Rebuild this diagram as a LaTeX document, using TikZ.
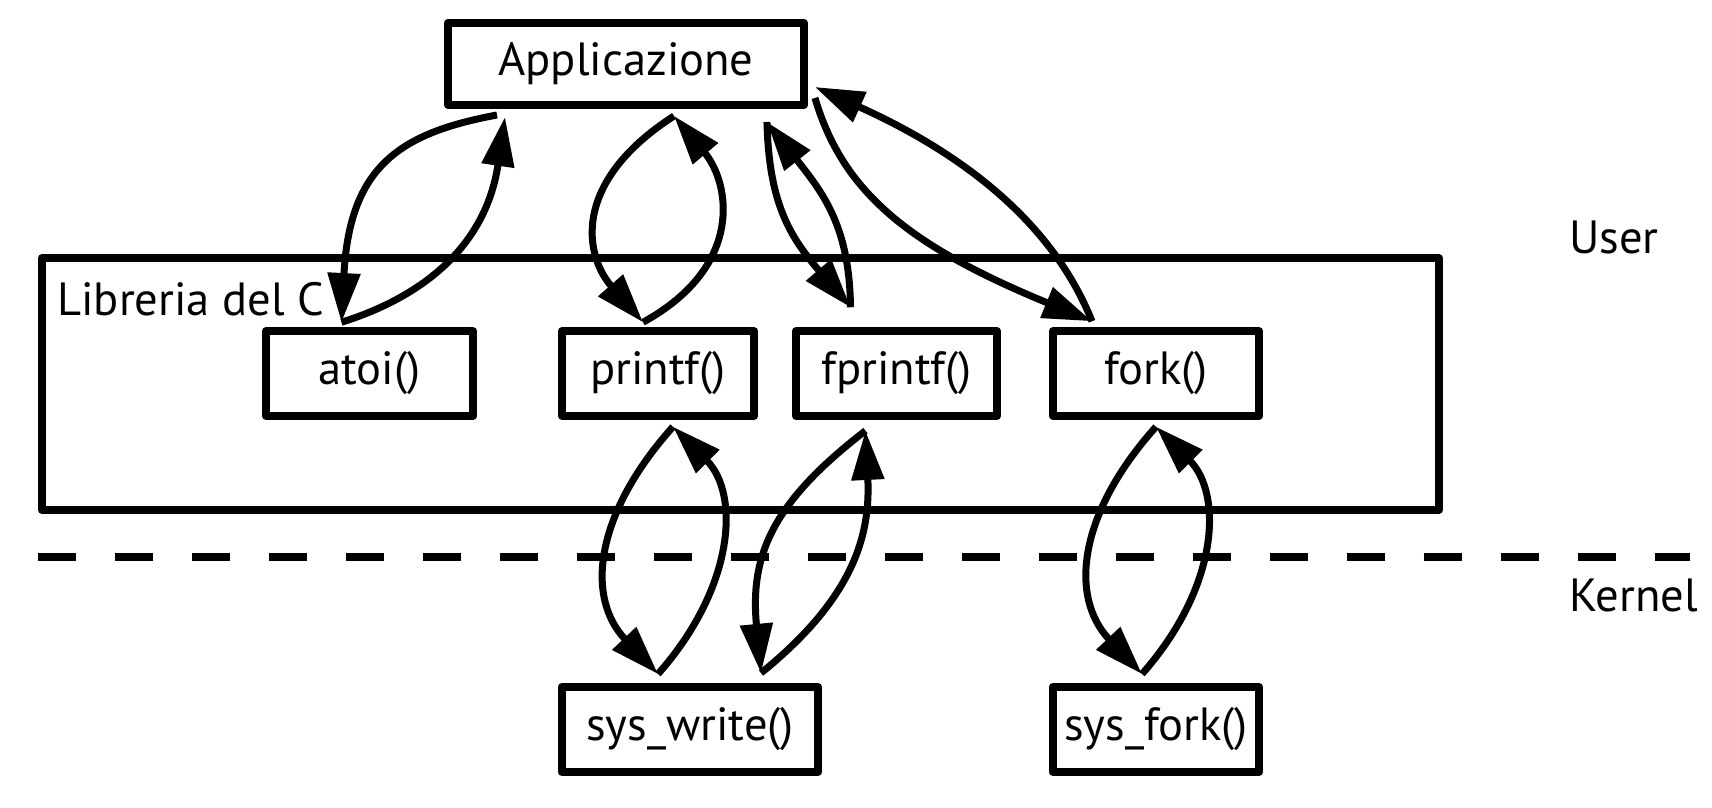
\documentclass[tikz,border=0pt]{standalone}
\usepackage{fontspec}
\setmainfont{PT Sans}
\usetikzlibrary{arrows.meta,calc}

\begin{document}
\begin{tikzpicture}[x=0.02cm,y=-0.02cm,
  fn/.style={draw,line width=0.15cm,line join=round,inner sep=0pt,minimum height=1.7cm,font=\fontsize{26.5}{31}\selectfont},
  link/.style={-{Triangle[length=28pt,width=18pt]},line width=0.14cm},
  side/.style={inner sep=0pt,font=\fontsize{26.5}{31}\selectfont}]
\useasboundingbox (0,0) rectangle (1712,808);
% library frame
\node[draw,line width=0.15cm,line join=round,minimum width=27.95cm,minimum height=5.05cm] (lib) at (740.5,384) {};
\node[side,anchor=base west] (libname) at (57,315) {Libreria del C};
% user / kernel border
\draw[line width=0.17cm,dash pattern=on 0.76cm off 0.78cm] (38,557) -- (1690,557);
\node[side,anchor=base west] (user) at (1569,253) {User};
\node[side,anchor=base west] (kernel) at (1569,611) {Kernel};
% boxes
\node[fn,minimum width=7.13cm,minimum height=1.65cm] (app) at (626,64) {Applicazione};
\node[fn,minimum width=4.15cm] (atoi) at (369.5,373.5) {atoi()};
\node[fn,minimum width=3.85cm] (printf) at (658,373.5) {printf()};
\node[fn,minimum width=4.03cm] (fprintf) at (896.5,373.5) {fprintf()};
\node[fn,minimum width=4.13cm] (fork) at (1156,373.5) {fork()};
\node[fn,minimum width=5.13cm,minimum height=1.71cm] (syswrite) at (690,729.5) {sys\_write()};
\node[fn,minimum width=4.13cm,minimum height=1.71cm] (sysfork) at (1156,729.5) {sys\_fork()};
% calls into the library
\draw[link] ($(app.south)+(-129,6)$) .. controls +(-97,18) and +(8,-156) .. ($(atoi.north)+(-28,-5)$);
\draw[link] ($(atoi.north)+(-28,-5)$) .. controls +(98,-31) and +(-17,116) .. ($(app.south)+(-121,8)$);
\draw[link] ($(app.south)+(48,7)$) .. controls +(-104,67) and +(-58,-66) .. ($(printf.north)+(-15,-5)$);
\draw[link] ($(printf.north)+(-15,-5)$) .. controls +(102,-56) and +(56,67) .. ($(app.south)+(48,7)$);
\draw[link] ($(app.south east)+(-41,13)$) .. controls +(2,81) and +(-61,-71) .. ($(fprintf.north)+(-46,-20)$);
\draw[link] ($(fprintf.north)+(-46,-20)$) .. controls +(-1,-81) and +(56,71) .. ($(app.south east)+(-41,13)$);
\draw[link] ($(app.south east)+(7,-11)$) .. controls +(28,95) and +(-182,-75) .. ($(fork.north)+(-64,-6)$);
\draw[link] ($(fork.north)+(-64,-6)$) .. controls +(-42,-105) and +(138,62) .. ($(app.south east)+(7,-22)$);
% system calls
\draw[link] ($(printf.south)+(15,7)$) .. controls +(-78,87) and +(-73,-77) .. ($(syswrite.north)+(-32,-9)$);
\draw[link] ($(syswrite.north)+(-32,-9)$) .. controls +(77,-87) and +(67,67) .. ($(printf.south)+(15,7)$);
\draw[link] ($(fprintf.south)+(-31,11)$) .. controls +(-95,73) and +(-11,-116) .. ($(syswrite.north)+(71,-10)$);
\draw[link] ($(syswrite.north)+(71,-10)$) .. controls +(94,-76) and +(5,103) .. ($(fprintf.south)+(-31,11)$);
\draw[link] ($(fork.south)+(0,7)$) .. controls +(-78,87) and +(-73,-77) .. ($(sysfork.north)+(-14,-9)$);
\draw[link] ($(sysfork.north)+(-14,-9)$) .. controls +(77,-87) and +(67,67) .. ($(fork.south)+(0,7)$);
\end{tikzpicture}
\end{document}
